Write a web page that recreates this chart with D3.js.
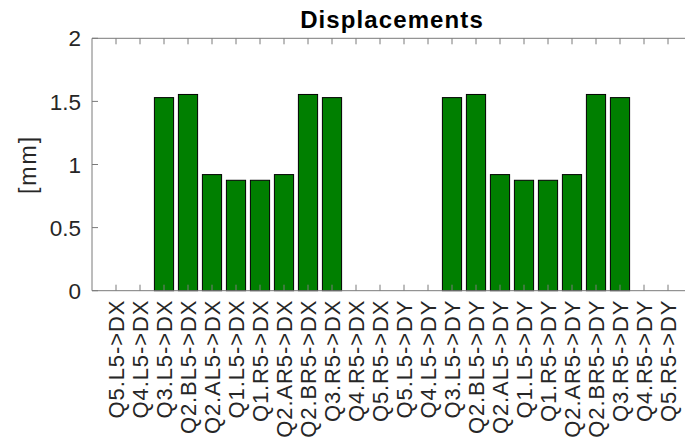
<!DOCTYPE html>
<html><head><meta charset="utf-8">
<script src="https://cdn.jsdelivr.net/npm/d3@7"></script>
<style>body{margin:0;background:#fff;overflow:hidden}svg{display:block}text{font-family:"Liberation Sans",Arial,Helvetica,sans-serif;fill:#262626}</style>
</head><body><svg id="c" width="685" height="439"></svg>
<script>
const categories = ["Q5.L5->DX","Q4.L5->DX","Q3.L5->DX","Q2.BL5->DX","Q2.AL5->DX","Q1.L5->DX","Q1.R5->DX","Q2.AR5->DX","Q2.BR5->DX","Q3.R5->DX","Q4.R5->DX","Q5.R5->DX",
"Q5.L5->DY","Q4.L5->DY","Q3.L5->DY","Q2.BL5->DY","Q2.AL5->DY","Q1.L5->DY","Q1.R5->DY","Q2.AR5->DY","Q2.BR5->DY","Q3.R5->DY","Q4.R5->DY","Q5.R5->DY"];
const values = [0,0,1.53,1.555,0.92,0.875,0.875,0.92,1.555,1.53,0,0,
0,0,1.53,1.555,0.92,0.875,0.875,0.92,1.555,1.53,0,0];
const yTicks = [0,0.5,1,1.5,2];
const yTickLabels = ["0","0.5","1","1.5","2"];
const title = "Displacements";
const yLabel = "[mm]";

const svg = d3.select("#c");
const L=92, R=692, T=38.3, B=290.7;
const x = d3.scaleLinear().domain([0, categories.length+1]).range([L,R]);
const y = d3.scaleLinear().domain([0,2]).range([B,T]);
const axisColor="#7a7a7a";
const barW = 0.8;

// bars
svg.append("g").selectAll("rect").data(values).join("rect")
  .attr("x",(d,i)=>x(i+1-barW/2)).attr("width",x(barW)-x(0))
  .attr("y",d=>y(d)).attr("height",d=>y(0)-y(d))
  .attr("fill","#007f00").attr("stroke","#000").attr("stroke-width",1)
  .attr("display",d=>d>0?null:"none");

// box lines
svg.append("line").attr("x1",L).attr("x2",R).attr("y1",T).attr("y2",T).attr("stroke",axisColor);
svg.append("line").attr("x1",L).attr("x2",R).attr("y1",B).attr("y2",B).attr("stroke",axisColor);
svg.append("line").attr("x1",L).attr("x2",L).attr("y1",T).attr("y2",B).attr("stroke",axisColor);

// x ticks
const idx = d3.range(1, categories.length+1);
const xt = svg.append("g");
xt.selectAll("line.b").data(idx).join("line").attr("class","b")
  .attr("x1",d=>x(d)).attr("x2",d=>x(d)).attr("y1",B).attr("y2",B-6).attr("stroke",axisColor);
xt.selectAll("line.t").data(idx).join("line").attr("class","t")
  .attr("x1",d=>x(d)).attr("x2",d=>x(d)).attr("y1",T).attr("y2",T+6).attr("stroke",axisColor);
xt.selectAll("text").data(categories).join("text")
  .attr("transform",(d,i)=>`translate(${x(i+1)},${B+9}) rotate(-90)`)
  .attr("text-anchor","end").attr("dy","0.36em")
  .style("font-size","22px").style("letter-spacing","0.9px")
  .text(d=>d);

// y ticks
const yt = svg.append("g");
yt.selectAll("line").data(yTicks).join("line")
  .attr("x1",L).attr("x2",L+6).attr("y1",d=>y(d)).attr("y2",d=>y(d)).attr("stroke",axisColor);
yt.selectAll("text").data(yTicks).join("text")
  .attr("x",L-11).attr("y",d=>y(d)).attr("dy","0.36em").attr("text-anchor","end")
  .style("font-size","22.5px").text((d,i)=>yTickLabels[i]);

// title
svg.append("text").attr("x",(L+R)/2).attr("y",28).attr("text-anchor","middle")
  .style("font-size","24px").style("font-weight","bold").style("letter-spacing","1.1px").style("fill","#000").text(title);

// y label
svg.append("text").attr("transform",`translate(36,${(T+B)/2}) rotate(-90)`).attr("text-anchor","middle")
  .style("font-size","23px").style("letter-spacing","2px").text(yLabel);
</script></body></html>
